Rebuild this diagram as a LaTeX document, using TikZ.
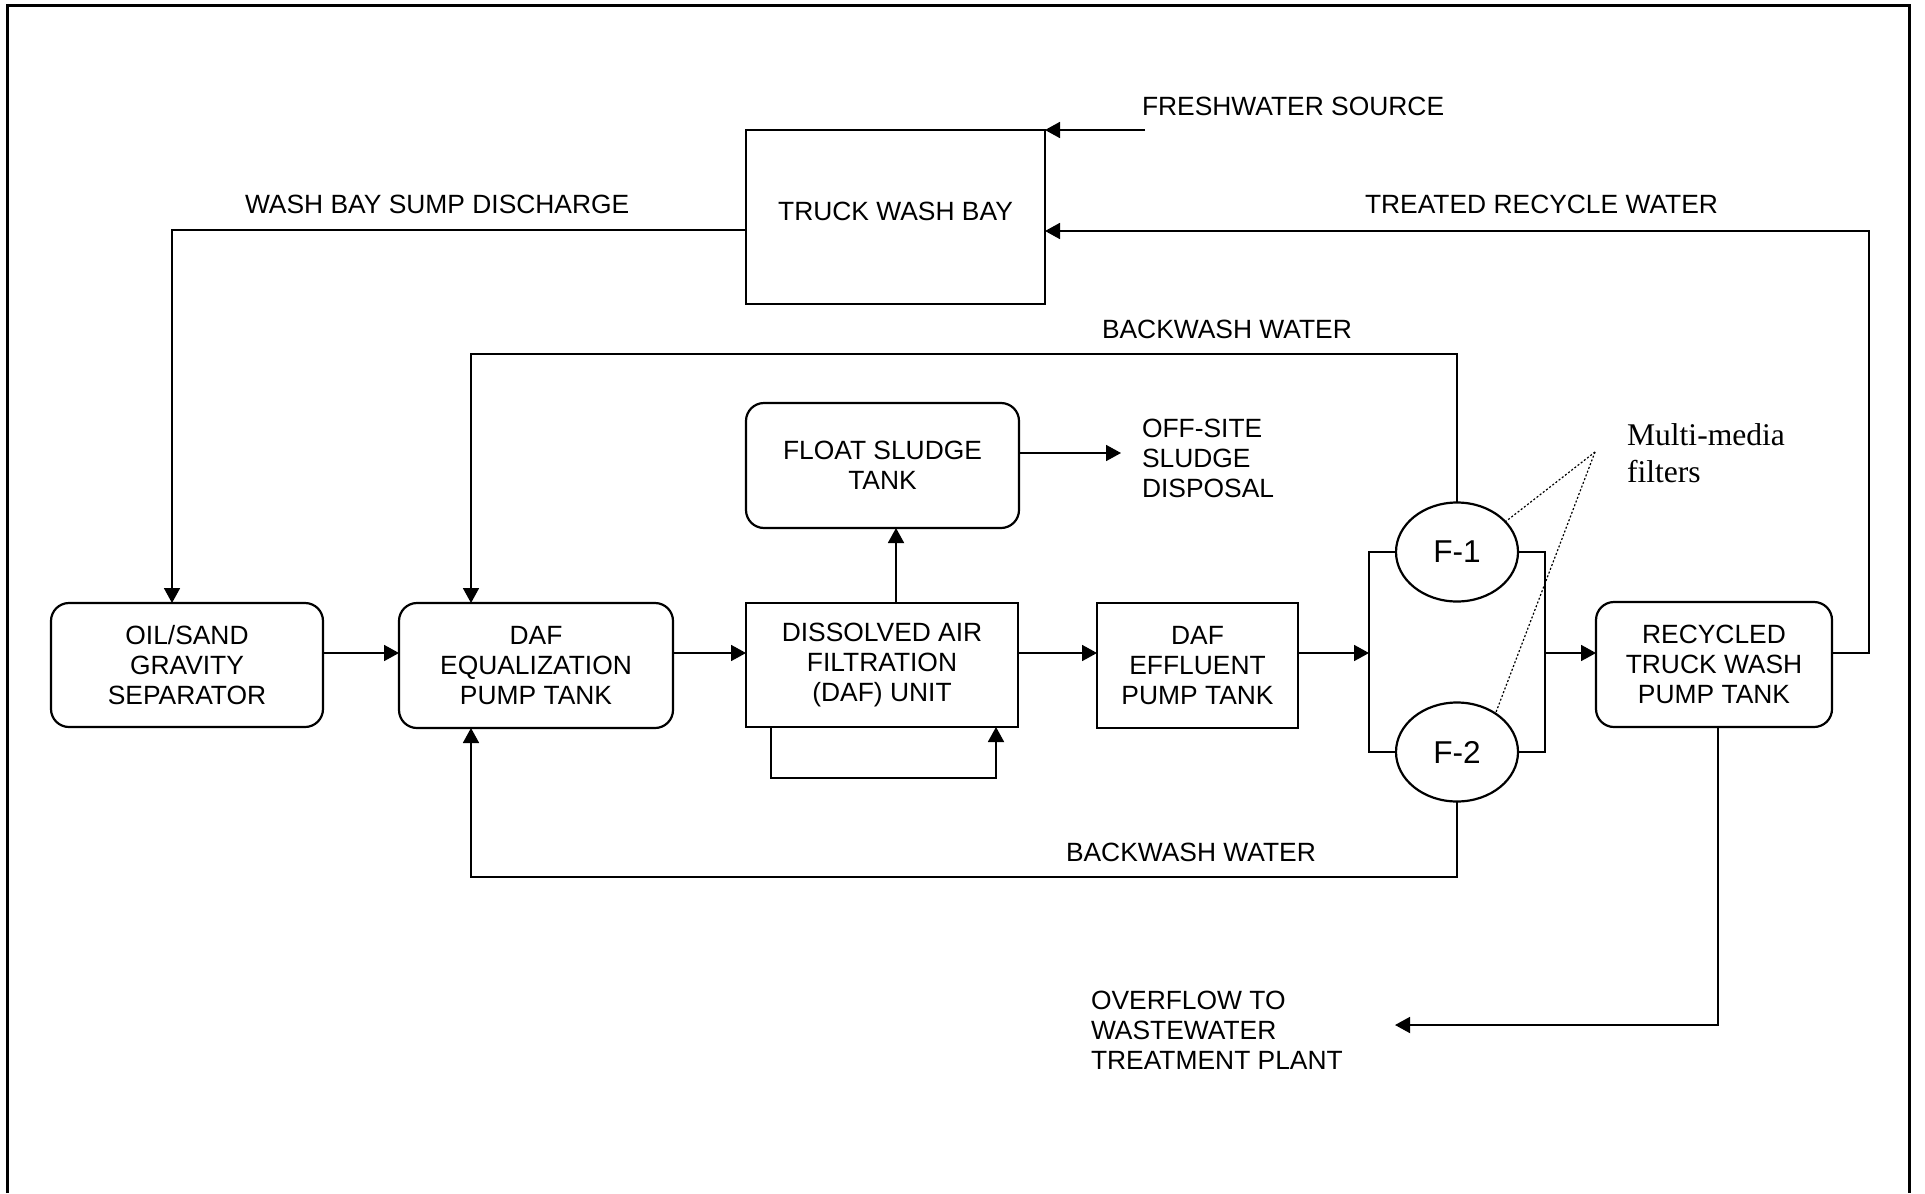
\documentclass[tikz,border=0pt]{standalone}
\usepackage{fontspec}
\setmainfont{Liberation Sans}
\newfontfamily\serifft{Liberation Serif}
\usetikzlibrary{arrows.meta,shapes.geometric}
\begin{document}
\begin{tikzpicture}[x=0.5pt,y=-0.5pt,
  txt/.style={font=\fontsize{13.2pt}{15pt}\selectfont},
  box/.style={txt,draw,line width=1.1pt,inner sep=0pt,outer sep=0pt,align=center},
  rbox/.style={box,rounded corners=9pt},
  filt/.style={font=\fontsize{15.8pt}{18pt}\selectfont,draw,ellipse,line width=1.1pt,inner sep=0pt,outer sep=0pt,minimum width=61pt,minimum height=49.5pt},
  conn/.style={line width=0.9pt},
  arr/.style={-{Triangle[length=7.5pt,width=8pt]}},
  brk/.style={line width=1.4pt},
  lbl/.style={txt,inner sep=0pt,outer sep=0pt},
  mlbl/.style={txt,inner sep=0pt,outer sep=0pt,anchor=north west,align=left}]
\useasboundingbox (0,0) rectangle (1925,1193);
% frame
\draw[line width=1.5pt] (7,1193) -- (7,6) -- (1909,6) -- (1909,1193);
% nodes
\node[box,minimum width=149.5pt,minimum height=87pt,text depth=6pt] (twb) at (895.5,217) {TRUCK WASH BAY};
\node[rbox,minimum width=136pt,minimum height=62pt] (osg) at (187,665) {OIL/SAND\\GRAVITY\\SEPARATOR};
\node[rbox,minimum width=137pt,minimum height=62.5pt] (deq) at (536,665.5) {DAF\\EQUALIZATION\\PUMP TANK};
\node[box,minimum width=136pt,minimum height=62pt] (dafu) at (882,665) {DISSOLVED AIR\\FILTRATION\\(DAF) UNIT};
\node[rbox,minimum width=136.5pt,minimum height=62.5pt] (fst) at (882.5,465.5) {FLOAT SLUDGE\\TANK};
\node[box,minimum width=100.5pt,minimum height=62.5pt] (def) at (1197.5,665.5) {DAF\\EFFLUENT\\PUMP TANK};
\node[rbox,minimum width=118pt,minimum height=62.5pt] (rtw) at (1714,664.5) {RECYCLED\\TRUCK WASH\\PUMP TANK};
\node[filt] (f1) at (1457,552) {F-1};
\node[filt] (f2) at (1457,752) {F-2};
% labels
\node[lbl,anchor=base west] (lwash) at (245,213) {WASH BAY SUMP DISCHARGE};
\node[lbl,anchor=base west] (lfresh) at (1142,115) {FRESHWATER SOURCE};
\node[lbl,anchor=base west] (ltreat) at (1365,213) {TREATED RECYCLE WATER};
\node[lbl,anchor=base west] (lbwt) at (1102,338) {BACKWASH WATER};
\node[lbl,anchor=base west] (lbwb) at (1066,861) {BACKWASH WATER};
\node[mlbl] (loff) at (1142,419) {OFF-SITE\\SLUDGE\\DISPOSAL};
\node[mlbl] (lover) at (1091,991) {OVERFLOW TO\\WASTEWATER\\TREATMENT PLANT};
\node[inner sep=0pt,outer sep=0pt,anchor=north west,align=left,font=\serifft\fontsize{15.8pt}{18.5pt}\selectfont] (lmm) at (1627,424) {Multi-media\\filters};
% coordinates
\coordinate (flow) at (0,653);
\coordinate (bl) at (1369,653);
\coordinate (br) at (1545,653);
\coordinate (up) at (896,0);
\coordinate (offsite) at (1121,453);
\coordinate (fw) at (1145,130);
\coordinate (tr) at (1869,231);
\coordinate (sd) at (172,230);
\coordinate (bwt) at (471,354);
\coordinate (bwb) at (471,877);
\coordinate (rl) at (771,778);
\coordinate (rr) at (996,778);
\coordinate (ovc) at (1718,1025);
\coordinate (ov) at (1395,1025);
\coordinate (mm) at (1595,452);
% main flow
\draw[conn,arr] (osg.east |- flow) -- (deq.west |- flow);
\draw[conn,arr] (deq.east |- flow) -- (dafu.west |- flow);
\draw[conn,arr] (dafu.east |- flow) -- (def.west |- flow);
\draw[conn,arr] (def.east |- flow) -- (bl);
\draw[conn,arr] (br) -- (rtw.west |- flow);
% filter manifolds
\draw[brk] (f1.west) -- (f1.west -| bl) -- (f2.west -| bl) -- (f2.west);
\draw[brk] (f1.east) -- (f1.east -| br) -- (f2.east -| br) -- (f2.east);
% float sludge
\draw[conn,arr] (dafu.north -| up) -- (fst.south -| up);
\draw[conn,arr] (fst.east |- offsite) -- (offsite);
% truck wash bay
\draw[conn,arr] (fw) -- (twb.north east);
\draw[conn,arr] (rtw.east |- flow) -| (tr) -- (twb.east |- tr);
\draw[conn,arr] (twb.west |- sd) -| (osg.north -| sd);
% backwash
\draw[conn,arr] (f1.north) |- (bwt) -- (deq.north -| bwt);
\draw[conn,arr] (f2.south) |- (bwb) -- (deq.south -| bwb);
% DAF recirculation
\draw[conn,arr] (dafu.south -| rl) -- (rl) -- (rr) -- (dafu.south -| rr);
% overflow
\draw[conn,arr] (rtw.south -| ovc) -- (ovc) -- (ov);
% callout
\draw[line width=0.6pt,dash pattern=on 1pt off 1pt] (mm) -- (f1.32);
\draw[line width=0.6pt,dash pattern=on 1pt off 1pt] (mm) -- (f2.45);
\end{tikzpicture}
\end{document}
